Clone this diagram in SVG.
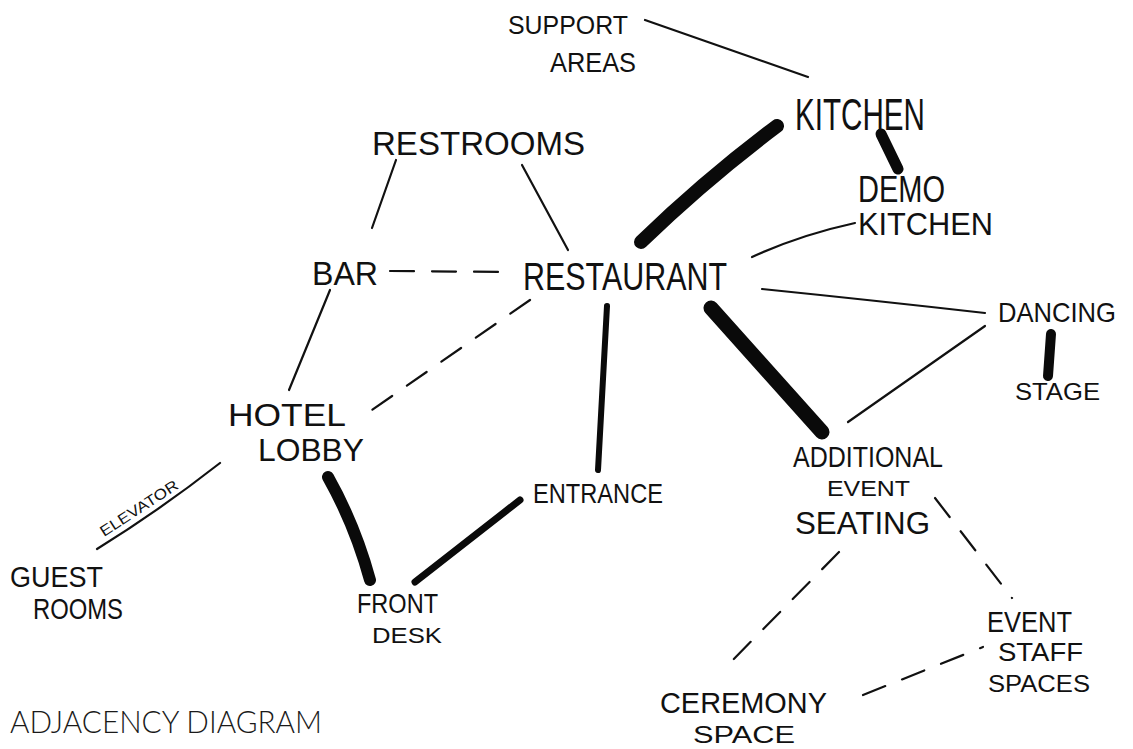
<svg xmlns="http://www.w3.org/2000/svg" width="1133" height="749" viewBox="0 0 1133 749">
<style>
.hw{font-family:"Liberation Sans","DejaVu Sans",sans-serif;fill:#111;}
.thin{stroke:#111;stroke-width:2.2;fill:none;stroke-linecap:round;}
.dash{stroke:#111;stroke-width:2.2;fill:none;stroke-linecap:round;stroke-dasharray:24,18;}
.thick{stroke:#0a0a0a;fill:none;stroke-linecap:round;}
.title{font-family:"Lato","Liberation Sans",sans-serif;font-weight:300;fill:#1a1a1a;}
</style>
<rect width="1133" height="749" fill="#ffffff"/>
<g id="connectors">
  <path class="thin" d="M645,20 L808,77"/>
  <path class="thick" stroke-width="14" d="M777,126 Q705,180 641,242"/>
  <path class="thick" stroke-width="11" d="M881,134 L898,169"/>
  <path class="thin" d="M396,160 L372,228"/>
  <path class="thin" d="M522,165 L568,250"/>
  <path class="dash" d="M390,271 L514,272"/>
  <path class="thin" d="M752,257 Q800,235 855,223"/>
  <path class="thin" d="M762,289 Q870,300 985,313"/>
  <path class="thin" d="M985,326 L848,422"/>
  <path class="thick" stroke-width="10" d="M1051,334 L1048,376"/>
  <path class="thick" stroke-width="15" d="M711,308 L822,432"/>
  <path class="thick" stroke-width="6" d="M607,306 L598,470"/>
  <path class="thin" d="M330,290 L289,390"/>
  <path class="dash" d="M530,300 L372,410"/>
  <path class="thick" stroke-width="12" d="M328,477 Q355,525 370,580"/>
  <path class="thick" stroke-width="7" d="M520,500 L415,582"/>
  <path class="thin" d="M220,463 Q160,510 97,549"/>
  <path class="dash" d="M839,552 L723,670"/>
  <path class="dash" d="M935,498 L1012,598"/>
  <path class="dash" d="M863,695 L983,647"/>
</g>
<g id="support-areas">
  <text class="hw" x="508" y="34" font-size="26" textLength="120" lengthAdjust="spacingAndGlyphs">SUPPORT</text>
  <text class="hw" x="550" y="72" font-size="28" textLength="86" lengthAdjust="spacingAndGlyphs">AREAS</text>
</g>
<g id="kitchen">
  <text class="hw" x="795" y="130" font-size="44" textLength="130" lengthAdjust="spacingAndGlyphs">KITCHEN</text>
</g>
<g id="restrooms">
  <text class="hw" x="372" y="155" font-size="34" textLength="213" lengthAdjust="spacingAndGlyphs">RESTROOMS</text>
</g>
<g id="demo-kitchen">
  <text class="hw" x="858" y="202" font-size="36" textLength="87" lengthAdjust="spacingAndGlyphs">DEMO</text>
  <text class="hw" x="858" y="235" font-size="32" textLength="135" lengthAdjust="spacingAndGlyphs">KITCHEN</text>
</g>
<g id="bar">
  <text class="hw" x="312" y="285" font-size="34" textLength="66" lengthAdjust="spacingAndGlyphs">BAR</text>
</g>
<g id="restaurant">
  <text class="hw" x="523" y="290" font-size="38" textLength="204" lengthAdjust="spacingAndGlyphs">RESTAURANT</text>
</g>
<g id="dancing">
  <text class="hw" x="998" y="322" font-size="28" textLength="118" lengthAdjust="spacingAndGlyphs">DANCING</text>
</g>
<g id="stage">
  <text class="hw" x="1015" y="400" font-size="24" textLength="85" lengthAdjust="spacingAndGlyphs">STAGE</text>
</g>
<g id="hotel-lobby">
  <text class="hw" x="228" y="426" font-size="32" textLength="118" lengthAdjust="spacingAndGlyphs">HOTEL</text>
  <text class="hw" x="258" y="461" font-size="32" textLength="106" lengthAdjust="spacingAndGlyphs">LOBBY</text>
</g>
<g id="additional-event-seating">
  <text class="hw" x="793" y="467" font-size="30" textLength="150" lengthAdjust="spacingAndGlyphs">ADDITIONAL</text>
  <text class="hw" x="827" y="496" font-size="22" textLength="83" lengthAdjust="spacingAndGlyphs">EVENT</text>
  <text class="hw" x="795" y="534" font-size="32" textLength="135" lengthAdjust="spacingAndGlyphs">SEATING</text>
</g>
<g id="entrance">
  <text class="hw" x="533" y="503" font-size="28" textLength="130" lengthAdjust="spacingAndGlyphs">ENTRANCE</text>
</g>
<g id="guest-rooms">
  <text class="hw" x="10" y="587" font-size="30" textLength="93" lengthAdjust="spacingAndGlyphs">GUEST</text>
  <text class="hw" x="33" y="619" font-size="30" textLength="90" lengthAdjust="spacingAndGlyphs">ROOMS</text>
  <text class="hw" x="0" y="0" font-size="15" textLength="90" lengthAdjust="spacingAndGlyphs" transform="translate(104,537) rotate(-33)">ELEVATOR</text>
</g>
<g id="front-desk">
  <text class="hw" x="357" y="613" font-size="28" textLength="81" lengthAdjust="spacingAndGlyphs">FRONT</text>
  <text class="hw" x="372" y="643" font-size="22" textLength="70" lengthAdjust="spacingAndGlyphs">DESK</text>
</g>
<g id="event-staff-spaces">
  <text class="hw" x="987" y="632" font-size="30" textLength="85" lengthAdjust="spacingAndGlyphs">EVENT</text>
  <text class="hw" x="998" y="661" font-size="26" textLength="85" lengthAdjust="spacingAndGlyphs">STAFF</text>
  <text class="hw" x="988" y="692" font-size="24" textLength="102" lengthAdjust="spacingAndGlyphs">SPACES</text>
</g>
<g id="ceremony-space">
  <text class="hw" x="660" y="713" font-size="29" textLength="167" lengthAdjust="spacingAndGlyphs">CEREMONY</text>
  <text class="hw" x="693" y="743" font-size="24" textLength="102" lengthAdjust="spacingAndGlyphs">SPACE</text>
</g>
<g id="title">
  <text class="title" x="10" y="733" font-size="31" textLength="312" lengthAdjust="spacingAndGlyphs">ADJACENCY DIAGRAM</text>
</g>
</svg>
